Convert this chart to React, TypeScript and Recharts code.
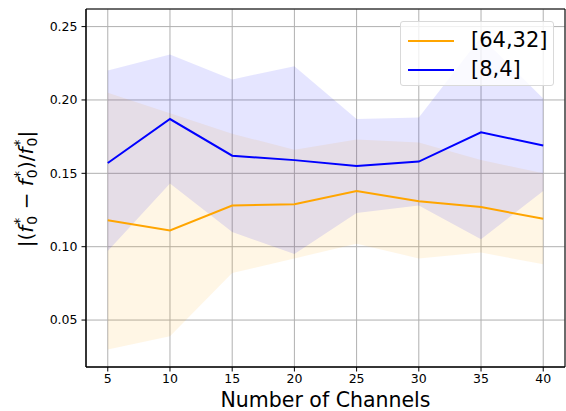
import {
  ComposedChart,
  Area,
  Line,
  XAxis,
  YAxis,
  CartesianGrid,
  Legend,
  ReferenceArea,
} from 'recharts'

const channels = [5, 10, 15, 20, 25, 30, 35, 40]

const orangeMean = [0.118, 0.111, 0.128, 0.129, 0.138, 0.131, 0.127, 0.119]
const orangeLow = [0.030, 0.039, 0.082, 0.092, 0.102, 0.092, 0.096, 0.088]
const orangeHigh = [0.205, 0.191, 0.177, 0.166, 0.173, 0.171, 0.159, 0.150]

const blueMean = [0.157, 0.187, 0.162, 0.159, 0.155, 0.158, 0.178, 0.169]
const blueLow = [0.097, 0.143, 0.110, 0.095, 0.123, 0.128, 0.105, 0.138]
const blueHigh = [0.220, 0.231, 0.214, 0.223, 0.187, 0.188, 0.243, 0.201]

const xTicks = [5, 10, 15, 20, 25, 30, 35, 40]
const yTicks = [0.05, 0.1, 0.15, 0.2, 0.25]
const xDomain = [3.25, 41.75]
const yDomain = [0.018, 0.262]

const ORANGE = '#FFA500'
const BLUE = '#0000FF'
const FONT = '"DejaVu Sans", sans-serif'

const data = channels.map((c, i) => ({
  x: c,
  oBand: [orangeLow[i], orangeHigh[i]],
  oMean: orangeMean[i],
  bBand: [blueLow[i], blueHigh[i]],
  bMean: blueMean[i],
}))

const legendItems = [
  { label: '[64,32]', color: ORANGE },
  { label: '[8,4]', color: BLUE },
]

function LegendBox() {
  return (
    <div
      style={{
        width: 154,
        height: 65,
        boxSizing: 'border-box',
        background: 'rgba(255,255,255,0.8)',
        border: '1px solid #d9d9d9',
        borderRadius: 3,
        padding: '4px 0 0 7px',
        fontFamily: FONT,
        fontSize: 21,
        color: '#000',
      }}
    >
      {legendItems.map((it) => (
        <div key={it.label} style={{ display: 'flex', alignItems: 'center', height: 29 }}>
          <svg width={46} height={4} style={{ marginRight: 17 }}>
            <line x1={0} y1={2} x2={46} y2={2} stroke={it.color} strokeWidth={2} />
          </svg>
          <span style={{ lineHeight: '29px' }}>{it.label}</span>
        </div>
      ))}
    </div>
  )
}

function YLabel() {
  const sub = 14
  return (
    <text
      transform="translate(33,189) rotate(-90)"
      textAnchor="middle"
      fontFamily={FONT}
      fontSize={20}
      fill="#000"
    >
      <tspan>|(</tspan>
      <tspan fontStyle="italic">f</tspan>
      <tspan fontSize={sub} dx={1} dy={4}>0</tspan>
      <tspan fontSize={sub} dx={-8.9} dy={-13}>*</tspan>
      <tspan dx={2} dy={9}>{' \u2212 '}</tspan>
      <tspan fontStyle="italic">f</tspan>
      <tspan fontSize={sub} dx={1} dy={4}>0</tspan>
      <tspan fontSize={sub} dx={-8.9} dy={-13}>*</tspan>
      <tspan dx={2} dy={9}>)/</tspan>
      <tspan fontStyle="italic">f</tspan>
      <tspan fontSize={sub} dx={1} dy={4}>0</tspan>
      <tspan fontSize={sub} dx={-8.9} dy={-13}>*</tspan>
      <tspan dx={2} dy={9}>|</tspan>
    </text>
  )
}

export default function App() {
  return (
    <div style={{ position: 'absolute', left: 0, top: 0, width: 566, height: 411, background: '#fff' }}>
      <ComposedChart
        width={566}
        height={411}
        data={data}
        margin={{ top: 9, right: 1, bottom: 0, left: 0 }}
      >
        <CartesianGrid stroke="#b0b0b0" strokeWidth={1} />
        <XAxis
          dataKey="x"
          type="number"
          domain={xDomain}
          ticks={xTicks}
          allowDataOverflow
          height={44}
          tickSize={4.5}
          tickMargin={3}
          tickLine={{ stroke: '#000' }}
          axisLine={{ stroke: '#000' }}
          tick={{ fontSize: 12.5, fill: '#000', fontFamily: FONT }}
          label={{
            value: 'Number of Channels',
            position: 'insideBottom',
            offset: 4,
            fontSize: 20.5,
            fill: '#000',
            fontFamily: FONT,
          }}
        />
        <YAxis
          type="number"
          domain={yDomain}
          ticks={yTicks}
          allowDataOverflow
          width={86}
          tickSize={4.5}
          tickMargin={4}
          tickLine={{ stroke: '#000' }}
          axisLine={{ stroke: '#000' }}
          tick={{ fontSize: 12.5, fill: '#000', fontFamily: FONT }}
          tickFormatter={(v: number) => v.toFixed(2)}
          label={{ content: () => <YLabel /> }}
        />
        <Area
          dataKey="oBand"
          stroke="none"
          fill={ORANGE}
          fillOpacity={0.1}
          isAnimationActive={false}
          activeDot={false}
          legendType="none"
        />
        <Area
          dataKey="bBand"
          stroke="none"
          fill={BLUE}
          fillOpacity={0.1}
          isAnimationActive={false}
          activeDot={false}
          legendType="none"
        />
        <Line
          dataKey="oMean"
          stroke={ORANGE}
          strokeWidth={2}
          dot={false}
          isAnimationActive={false}
        />
        <Line
          dataKey="bMean"
          stroke={BLUE}
          strokeWidth={2}
          dot={false}
          isAnimationActive={false}
        />
        <ReferenceArea
          x1={xDomain[0]}
          x2={xDomain[1]}
          y1={yDomain[0]}
          y2={yDomain[1]}
          fill="none"
          stroke="#000"
          strokeWidth={1}
          ifOverflow="visible"
        />
        <Legend
          layout="horizontal"
          verticalAlign="middle"
          align="center"
          content={() => <LegendBox />}
          wrapperStyle={{ left: 400, top: 21, width: 154, height: 65 }}
        />
      </ComposedChart>
    </div>
  )
}
